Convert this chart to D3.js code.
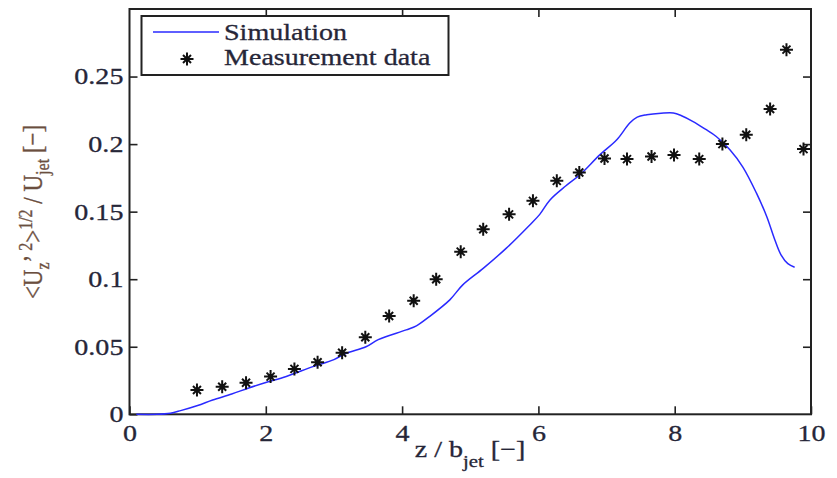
<!DOCTYPE html>
<html>
<head>
<meta charset="utf-8">
<script src="https://cdn.jsdelivr.net/npm/d3@7"></script>
<style>
  body { margin: 0; background: #fff; }
  text { font-family: 'Liberation Serif', 'Times New Roman', serif; }
</style>
</head>
<body>
<svg id="chart"></svg>
<script>
// measurement data (asterisks)
const measZ = [0.99, 1.36, 1.71, 2.07, 2.42, 2.76, 3.12, 3.46, 3.81, 4.17, 4.50, 4.86, 5.19, 5.57, 5.92, 6.27, 6.60, 6.97, 7.30, 7.66, 7.99, 8.36, 8.70, 9.05, 9.40, 9.64, 9.89]
const measU = [0.018, 0.0204, 0.0234, 0.0279, 0.0336, 0.0385, 0.0456, 0.057, 0.0728, 0.0841, 0.100, 0.1204, 0.137, 0.148, 0.158, 0.1728, 0.179, 0.1893, 0.1889, 0.1908, 0.192, 0.1889, 0.200, 0.2069, 0.226, 0.2699, 0.1963]

// simulation curve
const simZ = [0.1, 0.4, 0.6, 0.75, 1.0, 1.22, 1.5, 1.75, 2.0, 2.3, 2.69, 3.0, 3.18, 3.47, 3.65, 4.06, 4.21, 4.4, 4.7, 4.89, 5.19, 5.53, 5.87, 6.02, 6.17, 6.4, 6.61, 6.9, 7.15, 7.34, 7.45, 7.59, 7.8, 7.98, 8.1, 8.27, 8.45, 8.61, 8.81, 9.0, 9.2, 9.35, 9.47, 9.56, 9.66, 9.76]
const simU = [0, 0, 0.0008, 0.0027, 0.0065, 0.0106, 0.015, 0.0195, 0.0235, 0.028, 0.0353, 0.0405, 0.0452, 0.050, 0.0553, 0.0625, 0.0655, 0.0723, 0.0847, 0.0958, 0.108, 0.123, 0.140, 0.148, 0.1587, 0.169, 0.1773, 0.192, 0.2032, 0.2156, 0.220, 0.2217, 0.2228, 0.223, 0.221, 0.2167, 0.211, 0.2056, 0.1958, 0.183, 0.1637, 0.1464, 0.129, 0.118, 0.1115, 0.1089]

const xTicks = [0, 2, 4, 6, 8, 10]
const yTicks = [0, 0.05, 0.1, 0.15, 0.2, 0.25]
const legendLabels = ['Simulation', 'Measurement data']

const width = 837
const height = 478
const plotLeft = 129.5
const plotRight = 811
const plotTop = 9
const plotBottom = 414.3
const ink = '#222'
const textColor = '#262638'
const wide = 1.22 // the source picture is stretched sideways

const svg = d3.select('#chart')
  .attr('width', width)
  .attr('height', height)

const xScale = d3.scaleLinear([0, 10], [plotLeft, plotRight])
const yScale = d3.scaleLinear([0, 0.3], [plotBottom, plotTop])

const styleText = sel => sel
  .attr('fill', textColor)
  .attr('stroke', textColor)
  .attr('stroke-width', 0.3)
  .style('font-size', '23px')
  .style('font-family', "'Liberation Serif', serif")

// inward ticks on all four sides
const axes = [
  { axis: d3.axisBottom(xScale).tickValues(xTicks).tickFormat(d3.format('')), t: `translate(0,${plotBottom})`, pad: 10 },
  { axis: d3.axisTop(xScale).tickValues(xTicks.slice(1, -1)).tickFormat(''), t: `translate(0,${plotTop})`, pad: 0 },
  { axis: d3.axisLeft(yScale).tickValues(yTicks).tickFormat(d => String(d)), t: `translate(${plotLeft},0)`, pad: 5 },
  { axis: d3.axisRight(yScale).tickValues(yTicks.slice(1)).tickFormat(''), t: `translate(${plotRight},0)`, pad: 0 }
]

axes.forEach(a => {
  a.axis.tickSizeInner(-8).tickSizeOuter(0).tickPadding(a.pad)
  const g = svg.append('g')
    .attr('transform', a.t)
    .call(a.axis)
  g.select('.domain').remove()
  g.selectAll('line').attr('stroke', ink).attr('stroke-width', 1.6)
  g.selectAll('text')
    .call(styleText)
    .attr('transform', `scale(${wide},1)`)
})

// frame
svg.append('rect')
  .attr('x', plotLeft)
  .attr('y', plotTop)
  .attr('width', plotRight - plotLeft)
  .attr('height', plotBottom - plotTop)
  .attr('fill', 'none')
  .attr('stroke', ink)
  .attr('stroke-width', 2)

svg.append('clipPath').attr('id', 'plotClip')
  .append('rect')
  .attr('x', plotLeft).attr('y', plotTop)
  .attr('width', plotRight - plotLeft).attr('height', plotBottom - plotTop)

const line = d3.line()
  .x(d => xScale(d[0]))
  .y(d => yScale(d[1]))
  .curve(d3.curveCatmullRom)

svg.append('path')
  .datum(simZ.map((z, i) => [z, simU[i]]))
  .attr('d', line)
  .attr('fill', 'none')
  .attr('stroke', '#2a2aff')
  .attr('stroke-width', 1.5)

const star = (s = 6.5, d = 4) =>
  `M${-s},0H${s}M0,${-s}V${s}M${-d},${-d}L${d},${d}M${-d},${d}L${d},${-d}`

svg.append('g')
  .attr('clip-path', 'url(#plotClip)')
  .selectAll('path')
  .data(measZ.map((z, i) => [z, measU[i]]))
  .join('path')
  .attr('transform', d => `translate(${xScale(d[0])},${yScale(d[1])})`)
  .attr('d', star())
  .attr('stroke', '#111')
  .attr('stroke-width', 2)
  .attr('fill', 'none')

// legend
const legend = svg.append('g')
legend.append('rect')
  .attr('x', 141.5).attr('y', 16)
  .attr('width', 307).attr('height', 59)
  .attr('fill', '#fff')
  .attr('stroke', ink)
  .attr('stroke-width', 2)
legend.append('line')
  .attr('x1', 153).attr('x2', 219)
  .attr('y1', 32).attr('y2', 32)
  .attr('stroke', '#2a2aff')
  .attr('stroke-width', 1.5)
legend.append('path')
  .attr('transform', 'translate(187,59)')
  .attr('d', star())
  .attr('stroke', '#111')
  .attr('stroke-width', 2)
legend.selectAll('text.lab')
  .data(legendLabels)
  .join('text')
  .attr('class', 'lab')
  .attr('transform', (d, i) => `translate(224,${40 + i * 25}) scale(${wide},1)`)
  .call(styleText)
  .text(d => d)

// x label
const xl = svg.append('text')
  .attr('transform', `translate(470,457) scale(${wide},1)`)
  .attr('text-anchor', 'middle')
  .call(styleText)
xl.append('tspan').text('z / b')
xl.append('tspan').attr('dy', 10).style('font-size', '17px').text('jet')
xl.append('tspan').attr('dy', -10).text(' [−]')

// y label (rotated, so the sideways stretch thickens it instead)
const yl = svg.append('text')
  .attr('transform', `translate(42,212) rotate(-90) scale(1,${wide})`)
  .attr('text-anchor', 'middle')
  .call(styleText)
  .attr('fill', '#6b4e3e')
  .attr('stroke', '#6b4e3e')
yl.append('tspan').text('<U')
yl.append('tspan').attr('dy', 6).style('font-size', '16px').text('z')
yl.append('tspan').attr('dy', -6).text('\u2019')
yl.append('tspan').attr('dy', -8).style('font-size', '16px').text(' 2')
yl.append('tspan').attr('dy', 8).text('>')
yl.append('tspan').attr('dy', -8).style('font-size', '16px').text('1/2')
yl.append('tspan').attr('dy', 8).text(' / U')
yl.append('tspan').attr('dy', 6).style('font-size', '16px').text('jet')
yl.append('tspan').attr('dy', -6).text(' [−]')
</script>
</body>
</html>
